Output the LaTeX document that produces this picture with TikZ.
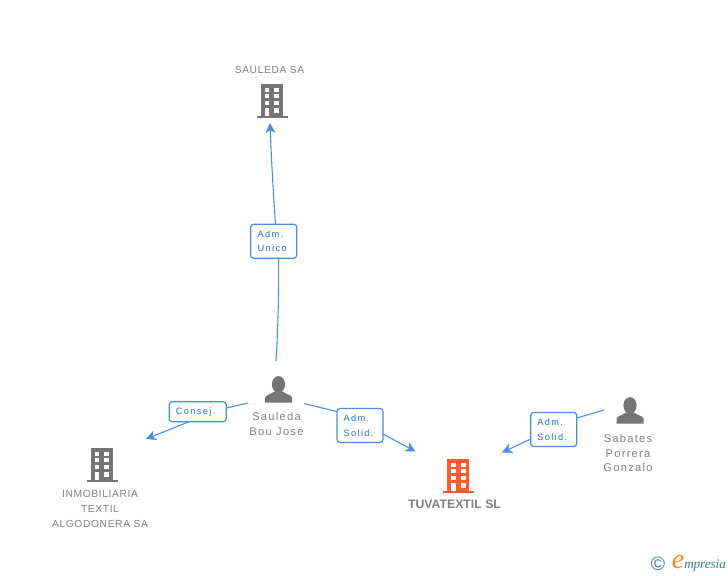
\documentclass[tikz,border=0pt]{standalone}
\usepackage{fontspec}
\setmainfont{Liberation Sans}
\newfontfamily\lblfont[LetterSpace=6]{Liberation Sans}
\newfontfamily\perfont[LetterSpace=11]{Liberation Sans}
\newfontfamily\tagfont[LetterSpace=15]{Liberation Sans}
\newfontfamily\logofont{Liberation Serif}
\usetikzlibrary{arrows.meta}
\definecolor{icongray}{HTML}{757575}
\definecolor{txtgray}{HTML}{808080}
\definecolor{linkblue}{HTML}{4A8DE6}
\definecolor{tagblue}{HTML}{1F6FD8}
\definecolor{hot}{HTML}{FF5B2E}
\definecolor{logoteal}{HTML}{2F7F9F}
\definecolor{logoorange}{HTML}{F08A1D}
\newcommand{\tagline}[2]{\mbox{\raisebox{-0.75pt}{#1}\kern#2}}
\tikzset{
  x=0.75pt,y=-0.75pt,
  lbl/.style={font=\fontsize{7.7pt}{11.2pt}\selectfont\lblfont,text=txtgray,align=center,inner sep=0pt},
  perlbl/.style={font=\fontsize{8.4pt}{11.2pt}\selectfont\perfont,text=txtgray,align=center,inner sep=0pt},
  mainlbl/.style={font=\fontsize{9.2pt}{11pt}\selectfont\bfseries,text=txtgray,align=center,inner sep=0pt},
  tagbox/.style={draw=linkblue,line width=0.9pt,rounded corners=2.2pt,fill=white,inner sep=0pt,
    font=\fontsize{6.9pt}{11.2pt}\selectfont\tagfont,text=tagblue,align=left},
  link/.style={draw=linkblue,line width=0.8pt},
  linka/.style={link,-{Stealth[length=7.5pt,width=7.5pt,inset=2.2pt]}},
  pics/building/.style={code={
    \fill[#1] (-11,-33.5) rectangle (11,-2);
    \fill[#1] (-15.5,-2) rectangle (15.5,0);
    \foreach \yy in {-30,-23.4,-16.7}{
      \fill[white] (-7,\yy) rectangle (-2.7,\yy+4);
      \fill[white] (2.3,\yy) rectangle (7.3,\yy+4);
    }
    \fill[white] (-7,-10) rectangle (-2.7,-2);
    \fill[white] (2.3,-10) rectangle (7.3,-5.2);
  }},
  pics/person/.style={code={
    \fill[icongray] (0,-11.5) ellipse (6.6 and 8.4);
    \fill[icongray] (-13.5,6.7) -- (-13.5,2) .. controls (-13.5,-1) and (-8,-1.5) .. (-4,-4.5)
      -- (4,-4.5) .. controls (8,-1.5) and (13.5,-1) .. (13.5,2) -- (13.5,6.7) -- cycle;
  }}
}
\begin{document}
\begin{tikzpicture}
\useasboundingbox (0,0) rectangle (728,575);
\fill[white] (0,0) rectangle (728,575);

% icons
\pic at (272,117.7) {building=icongray};
\pic at (102,481.7) {building=icongray};
\pic at (458.2,492.7) {building=hot};
\pic at (278.5,396) {person};
\pic at (630,417) {person};

% text labels
\node[lbl] (sauleda) at (269.5,70) {SAULEDA SA};
\node[lbl] (inmo) at (100,509) {INMOBILIARIA\\TEXTIL\\ALGODONERA SA};
\node[mainlbl] (tuva) at (454.5,504.5) {TUVATEXTIL SL};
\node[perlbl] (bou) at (276.5,424) {Sauleda\\Bou Jose};
\node[perlbl] (sabates) at (628,453) {Sabates\\Porrera\\Gonzalo};

% tags
\node[tagbox,minimum width=46pt*0.75,minimum height=34pt*0.75] (unico) at (273.7,241.2) {\tagline{Adm.}{0pt}\\\tagline{Unico}{2.2pt}};
\node[tagbox,minimum width=57pt*0.75,minimum height=20pt*0.75] (consej) at (197.7,411.7) {\tagline{Consej.}{3pt}};
\node[tagbox,minimum width=46pt*0.75,minimum height=34pt*0.75] (solid1) at (360,425.5) {\tagline{Adm.}{0pt}\\\tagline{Solid.}{2.2pt}};
\node[tagbox,minimum width=46pt*0.75,minimum height=34pt*0.75] (solid2) at (553.7,429.5) {\tagline{Adm.}{0pt}\\\tagline{Solid.}{2.2pt}};

% connector ends
\coordinate (p1a) at (276,361);
\coordinate (u1) at (278.5,258.5);
\coordinate (u2) at (275.5,224);
\coordinate (sTip) at (270,123);
\coordinate (p1b) at (248,403);
\coordinate (c1) at (226.5,408);
\coordinate (c2) at (189,421.7);
\coordinate (iTip) at (146,439);
\coordinate (p1c) at (304,403.5);
\coordinate (a1) at (336.7,411.5);
\coordinate (a2) at (383,434);
\coordinate (tTip1) at (415.5,451.5);
\coordinate (p2) at (604,410);
\coordinate (b1) at (576.7,418);
\coordinate (b2) at (530.7,439);
\coordinate (tTip2) at (502,452.5);

% connectors
\draw[link] (p1a) .. controls (278,330) and (279,290) .. (u1);
\draw[linka] (u2) .. controls (273,190) and (271,150) .. (sTip);
\draw[link] (p1b) -- (c1);
\draw[linka] (c2) -- (iTip);
\draw[link] (p1c) -- (a1);
\draw[linka] (a2) -- (tTip1);
\draw[link] (p2) -- (b1);
\draw[linka] (b2) -- (tTip2);

% logo
\node[inner sep=0pt,text=logoteal,font=\fontsize{14.5pt}{15pt}\selectfont] (copy) at (658,564) {©};
\node[inner sep=0pt,text=logoorange,font=\fontsize{21pt}{21pt}\selectfont\logofont\itshape] (elogo) at (678,562) {e};
\node[inner sep=0pt,anchor=base west,text=logoteal,font=\fontsize{9.8pt}{10pt}\selectfont\logofont\itshape] (presia) at (684,568) {mpresia};
\end{tikzpicture}
\end{document}
